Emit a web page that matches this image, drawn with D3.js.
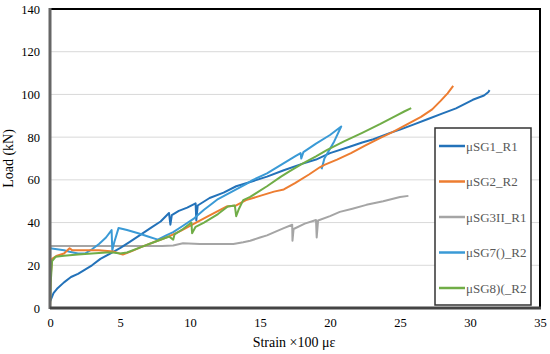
<!DOCTYPE html>
<html>
<head>
<meta charset="utf-8">
<script src="https://cdn.jsdelivr.net/npm/d3@7"></script>
<style>
  body { margin: 0; background: #fff; }
</style>
</head>
<body>
<div id="chart"></div>
<script>
// data: [strain x100 µε, load kN]
const seriesNames = ["μSG1_R1", "μSG2_R2", "μSG3II_R1", "μSG7()_R2", "μSG8)(_R2"];
const seriesColors = ["#2372b9", "#ed7d31", "#a5a5a5", "#3a9ad6", "#70ad47"];

const sg1 = [[0,3],[0.1,4.5],[0.25,7],[0.5,9],[1,12],[1.5,14.5],[2,16],[2.5,18],[3,20],[3.6,23],[4.3,25.5],[5,28],[5.7,31],[6.4,34],[7.2,37.5],[7.9,40.5],[8.5,44.5],[8.6,39],[8.7,43.5],[9.2,45.5],[9.8,47],[10.4,49],[10.45,41],[10.55,48],[11.4,51.5],[12.4,54],[13.3,57],[14.3,59],[15.5,61.5],[16.7,64.5],[18,67.5],[19,69.5],[20,72.5],[21.4,75.5],[22.3,77.5],[23.1,79],[24.3,82],[25,83.5],[26,86],[27,88.5],[28,91],[29,93.5],[30.2,97.5],[31,99.5],[31.3,101],[31.4,102]];
const sg2 = [[0,0],[0.05,15],[0.15,23],[0.5,24.5],[1,25.5],[1.4,28],[1.6,27],[2.5,27],[3.5,27],[4.5,26.5],[5.2,25],[5.8,26.5],[6.5,28.5],[7.5,31],[8.5,33.5],[9.3,36],[10.3,39.5],[11.3,43],[12.6,47.5],[13.3,48],[14,50.5],[15,52.5],[16,54.5],[16.7,55.5],[17.5,58.5],[18.5,62.5],[19.3,66],[19.6,67],[20.5,69.5],[21.5,72.5],[22.5,76],[23.6,79.7],[24.5,82.5],[25.5,86],[26.5,89.5],[27.3,93],[27.9,97],[28.4,100.5],[28.8,104]];
const sg3 = [[0,0],[0.02,29],[2,29],[4,29],[6,29],[8,29],[8.8,29.3],[9.5,30.3],[10.7,30],[12,30],[13.1,30],[13.8,30.8],[14.3,31.5],[15,33],[15.5,34],[16.2,36],[16.7,37.4],[17.3,39],[17.32,31.5],[17.4,37],[18.2,39.5],[19,41.2],[19.05,33],[19.15,41],[20,43],[20.7,45],[21.6,46.5],[22.6,48.3],[23.8,50],[25,52],[25.6,52.5]];
const sg7 = [[0,28],[0.5,27.5],[1,27],[1.4,26.3],[2,25.5],[2.5,25.5],[3,27.5],[3.5,30],[4,33],[4.4,36.5],[4.45,27],[4.6,31],[4.9,37.5],[5.5,36.5],[6.3,35],[7,33.5],[7.7,32],[8.3,34],[8.8,35.5],[9.5,38.5],[10.3,42],[11,46],[11.4,48],[12,51],[13,54.5],[14,58],[14.5,60],[15.5,63],[16.5,67],[17.5,71],[17.9,72.5],[17.95,70],[18.1,73],[19,77],[20,81],[20.8,85],[20.3,78],[19.6,70],[19.4,65]];
const sg8 = [[0,0],[0.05,12],[0.15,22],[0.4,24],[1,24.5],[2,25],[3,25.5],[4,26],[4.5,26],[5,25.5],[5.5,26],[6.5,28.5],[7.5,31],[8.5,33.5],[8.8,32],[8.9,34.5],[9.5,37],[10.1,40],[10.15,35],[10.4,38],[11,40],[12,44],[12.7,47.5],[13.2,48],[13.3,43],[13.5,46.5],[13.8,50.5],[14.3,52],[15.5,57],[16.5,61.5],[17.1,64],[18,67.5],[19,71],[19.8,74],[21,78],[22.3,82],[23.6,86.2],[24.7,90],[25.3,92],[25.8,93.6]];

const seriesData = [sg1, sg2, sg3, sg7, sg8];
// draw order so orange/green sit on top like the picture
const drawOrder = [2, 0, 3, 1, 4];

const xTicks = [0, 5, 10, 15, 20, 25, 30, 35];
const yTicks = [0, 20, 40, 60, 80, 100, 120, 140];

const W = 550, H = 354;
const margin = { left: 50, right: 10, top: 9, bottom: 46 };
const w = W - margin.left - margin.right;
const h = H - margin.top - margin.bottom;
const serif = "'Liberation Serif', 'Times New Roman', serif";

var svg = d3.select("#chart").append("svg")
  .attr("width", W)
  .attr("height", H)
  .attr("font-family", serif);

var g = svg.append("g")
  .attr("transform", "translate(" + margin.left + "," + margin.top + ")");

x = d3.scaleLinear().domain([0, 35]).range([0, w]);
y = d3.scaleLinear().domain([0, 140]).range([h, 0]);

// gridlines
g.selectAll(".grid")
  .data(yTicks.filter(d => d > 0 && d < 140))
  .enter().append("line")
  .attr("class", "grid")
  .attr("x1", 0).attr("x2", w)
  .attr("y1", d => y(d)).attr("y2", d => y(d))
  .style("stroke", "#d9d9d9")
  .style("stroke-width", 1);

// axes (labels only, frame drawn separately)
var yAxis = g.append("g").call(d3.axisLeft(y).tickValues(yTicks).tickSize(0).tickPadding(10));
yAxis.attr("font-family", serif).attr("font-size", 12.5);
yAxis.select(".domain").remove();
yAxis.selectAll("text").style("fill", "#000");

var xAxis = g.append("g")
  .attr("transform", "translate(0," + h + ")")
  .call(d3.axisBottom(x).tickValues(xTicks).tickSize(0).tickPadding(10));
xAxis.attr("font-family", serif).attr("font-size", 12.5);
xAxis.select(".domain").remove();
xAxis.selectAll("text").style("fill", "#000");

// the lines
var line = d3.line().x(d => x(d[0])).y(d => y(d[1]));
g.selectAll(".series")
  .data(drawOrder)
  .enter().append("path")
  .attr("class", "series")
  .attr("d", i => line(seriesData[i]))
  .style("fill", "none")
  .style("stroke", i => seriesColors[i])
  .style("stroke-width", 2)
  .style("stroke-linejoin", "round");

// plot frame: black top/right, heavier grey left/bottom
g.append("rect")
  .attr("x", 0).attr("y", 0).attr("width", w).attr("height", h)
  .style("fill", "none").style("stroke", "#000").style("stroke-width", 2);
g.append("line")
  .attr("x1", 0).attr("x2", 0).attr("y1", -1).attr("y2", h + 1)
  .style("stroke", "#666").style("stroke-width", 3);
g.append("line")
  .attr("x1", 0).attr("x2", w + 1).attr("y1", h).attr("y2", h)
  .style("stroke", "#444").style("stroke-width", 3);

// axis titles
svg.append("text")
  .text("Strain ×100 με")
  .attr("x", margin.left + w / 2 - 1)
  .attr("y", 347)
  .style("font-size", "14px")
  .style("text-anchor", "middle");
svg.append("text")
  .text("Load (kN)")
  .attr("transform", "translate(13," + (margin.top + h / 2) + ") rotate(-90)")
  .style("font-size", "14px")
  .style("text-anchor", "middle");

// legend
var legend = svg.append("g").attr("transform", "translate(435,128)");
legend.append("rect")
  .attr("width", 96).attr("height", 177)
  .style("fill", "#fff").style("stroke", "#333").style("stroke-width", 1.5);
var items = legend.selectAll(".item")
  .data(seriesNames)
  .enter().append("g")
  .attr("class", "item")
  .attr("transform", (d, i) => "translate(0," + (18 + i * 35.5) + ")");
items.append("line")
  .attr("x1", 4).attr("x2", 30).attr("y1", 0).attr("y2", 0)
  .style("stroke", (d, i) => seriesColors[i])
  .style("stroke-width", 2.5);
items.append("text")
  .text(d => d)
  .attr("x", 31).attr("y", 4.5)
  .style("font-size", "13px")
  .style("fill", "#595959");
</script>
</body>
</html>
